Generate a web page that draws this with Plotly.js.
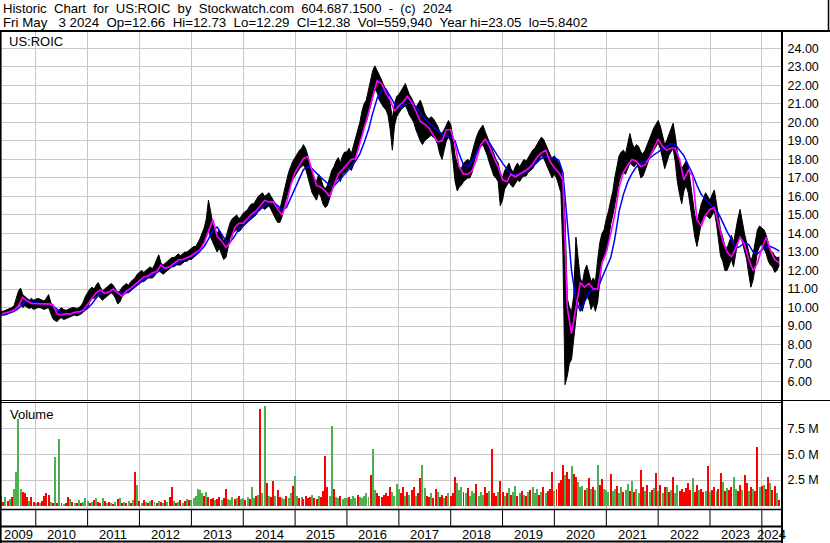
<!DOCTYPE html>
<html>
<head>
<meta charset="utf-8">
<script src="https://cdn.plot.ly/plotly-3.0.1.min.js"></script>
<style>html,body{margin:0;padding:0;background:#fff;}#chart{width:830px;height:543px;}</style>
</head>
<body>
<div id="chart"></div>
<script>
// ---- Data ----
// semi-monthly price range (1st and 16th of each month), May 2009 .. May 3 2024
const hi = [
 9.8,9.8,9.85,9.9,9.95,10.0,10.1,10.5,10.9,11.05,10.7,10.6,10.5,10.4,10.5,10.4,
 10.45,10.5,10.45,10.4,10.35,10.5,10.7,10.3,10.0,9.9,9.8,9.9,10.0,9.9,9.85,9.9,9.95,10.0,10.0,9.95,10.0,10.1,10.3,10.6,
 10.8,11.0,11.1,11.0,11.2,11.35,11.1,10.9,11.0,11.1,11.2,11.3,11.2,11.0,10.8,10.9,11.1,11.2,11.3,11.2,11.4,11.5,11.6,11.8,
 11.9,12.0,11.9,12.0,12.1,12.2,12.1,12.3,12.6,12.85,12.4,12.3,12.4,12.5,12.6,12.7,12.7,12.8,12.9,12.8,12.9,13.0,13.0,13.1,
 13.2,13.3,13.3,13.5,13.7,14.0,14.3,14.8,15.8,15.2,14.5,14.2,14.0,14.2,13.9,13.6,13.8,14.2,14.6,14.8,14.9,15.0,14.8,14.9,
 15.1,15.2,15.3,15.5,15.6,15.6,15.8,16.0,16.1,16.2,16.0,16.1,16.2,16.0,15.8,15.6,15.4,15.3,15.8,16.3,16.8,17.3,17.6,17.9,
 18.1,18.3,18.5,18.6,18.8,18.6,18.2,17.6,17.3,17.0,16.8,17.2,17.0,16.6,16.4,16.6,17.0,17.4,17.6,17.9,18.1,17.8,18.2,18.4,
 18.4,18.6,18.3,18.7,19.2,19.6,20.0,20.6,21.0,21.2,21.8,22.4,22.8,23.05,22.8,22.6,22.3,22.0,21.8,21.6,21.0,20.2,21.0,21.4,
 21.5,21.7,21.9,22.1,21.8,21.5,21.3,21.0,20.8,21.0,21.2,20.9,20.5,20.3,20.2,20.3,20.2,20.0,19.8,19.5,19.4,19.6,19.9,20.1,
 19.9,19.2,18.2,17.8,17.6,17.5,17.8,17.9,18.0,17.9,18.3,18.8,19.2,19.5,19.7,19.85,19.5,19.2,18.9,18.6,18.3,18.0,17.8,17.3,
 17.0,17.4,17.6,17.8,17.5,17.3,17.6,17.8,17.6,17.8,18.0,17.9,18.1,18.3,18.5,18.6,18.8,19.0,19.2,19.1,18.8,18.5,18.2,18.0,
 18.2,18.0,17.8,17.6,16.8,14.9,10.5,10.0,9.8,10.6,13.8,12.6,11.6,11.3,12.0,12.3,11.9,11.4,11.6,11.4,12.6,13.5,14.0,14.2,
 14.8,15.2,15.8,16.3,17.0,17.6,18.2,18.4,18.5,18.3,18.8,19.4,18.9,18.6,18.8,18.7,18.4,18.3,18.5,18.8,19.2,19.5,19.7,19.9,
 20.1,19.8,19.2,18.8,19.0,19.3,19.6,19.95,19.3,18.4,17.8,17.5,17.7,17.9,17.6,16.8,16.0,15.0,14.6,15.1,15.6,15.9,16.2,16.0,
 15.8,16.1,16.35,15.6,14.8,14.2,13.8,13.3,13.2,13.6,13.9,13.5,14.2,14.8,15.3,14.6,14.0,13.5,13.0,12.5,12.9,13.6,14.2,14.4,
 14.3,14.2,13.9,13.4,13.1,13.0,12.8,12.7,12.73
];
const lo = [
 9.55,9.6,9.6,9.65,9.7,9.75,9.8,9.9,10.1,10.2,10.0,10.1,10.0,9.95,10.0,9.9,
 9.95,10.0,10.0,9.95,9.9,9.95,10.0,9.7,9.4,9.3,9.25,9.4,9.45,9.35,9.4,9.45,9.5,9.55,9.6,9.55,9.6,9.65,9.75,9.9,
 10.0,10.3,10.5,10.5,10.6,10.7,10.5,10.4,10.5,10.6,10.7,10.8,10.7,10.5,10.2,10.3,10.6,10.7,10.8,10.8,10.9,11.0,11.1,11.2,
 11.3,11.4,11.4,11.5,11.6,11.6,11.6,11.7,11.9,12.0,11.9,11.8,11.9,12.0,12.1,12.2,12.2,12.3,12.3,12.3,12.4,12.5,12.5,12.6,
 12.6,12.7,12.8,12.9,13.0,13.3,13.6,13.9,14.2,13.8,13.5,13.2,13.0,13.2,12.9,12.6,12.7,13.3,13.8,14.0,14.1,14.2,14.1,14.2,
 14.4,14.5,14.6,14.7,14.8,14.9,15.0,15.2,15.3,15.4,15.3,15.4,15.5,15.3,15.0,14.8,14.6,14.6,14.9,15.5,15.9,16.3,16.7,16.9,
 17.1,17.3,17.5,17.6,17.7,17.5,17.0,16.5,16.2,16.0,15.8,16.2,16.0,15.6,15.4,15.5,15.9,16.3,16.6,16.8,17.0,16.8,17.2,17.3,
 17.4,17.6,17.4,17.7,18.1,18.5,18.9,19.4,19.8,20.0,20.5,21.0,21.5,21.8,21.6,21.2,21.0,20.8,20.7,20.4,19.6,18.5,19.8,20.3,
 20.5,20.7,20.8,20.9,20.7,20.4,20.2,20.0,19.6,19.3,19.0,18.8,19.0,19.1,19.2,19.3,19.2,19.1,18.8,18.3,18.0,18.6,19.0,19.2,
 19.0,18.0,16.8,16.3,16.5,16.6,16.8,16.9,17.0,17.0,17.3,17.9,18.3,18.5,18.7,18.8,18.5,18.2,17.8,17.4,17.1,17.0,16.8,15.5,
 15.8,16.4,16.6,16.8,16.6,16.5,16.7,16.9,16.8,17.0,17.1,17.1,17.3,17.4,17.5,17.7,17.8,18.0,18.2,18.1,17.8,17.6,17.3,17.0,
 17.2,17.0,16.6,16.2,13.0,5.84,6.3,7.0,7.2,8.2,9.5,10.5,10.0,9.8,10.3,10.6,10.4,9.9,10.2,9.8,10.3,11.6,12.5,12.8,
 13.0,13.6,14.5,15.0,15.6,16.2,16.8,17.2,17.3,17.2,17.5,17.8,17.7,17.6,17.8,17.5,17.0,17.1,17.4,17.8,18.1,18.3,18.5,18.7,
 18.9,18.6,18.0,17.5,17.8,18.2,18.4,18.6,17.9,16.8,16.1,15.6,16.3,16.6,16.2,15.3,14.6,13.8,13.3,13.9,14.6,14.9,15.0,14.9,
 14.8,15.0,15.2,14.5,13.6,12.8,12.5,12.0,12.0,12.3,12.6,12.2,13.0,13.6,14.0,13.5,13.0,12.6,11.8,11.1,11.5,12.4,13.0,13.3,
 13.4,13.2,12.9,12.5,12.3,12.2,11.9,12.0,12.29
];
// semi-monthly volume, millions of shares
const vol = [
 1.0,0.4,0.9,0.5,0.7,0.9,1.6,3.3,8.4,1.6,1.3,1.2,0.9,0.5,0.9,0.4,
 0.3,0.4,0.3,0.5,1.0,1.2,1.1,0.4,0.3,4.7,0.3,6.5,0.3,0.2,0.3,0.9,0.7,0.4,0.3,0.3,0.6,0.3,0.4,0.8,
 0.5,0.3,0.4,0.6,0.8,0.4,0.3,0.8,0.5,0.3,0.4,0.3,0.2,0.4,0.7,0.8,0.3,0.4,0.3,0.5,0.3,0.6,3.3,2.0,
 0.5,0.3,0.6,0.4,0.3,0.5,0.6,0.4,0.3,0.5,0.4,0.3,0.6,0.4,0.9,1.8,0.5,0.3,0.4,0.6,0.3,0.5,0.7,0.6,
 0.6,0.8,1.0,1.6,1.5,1.2,1.0,1.3,0.9,0.7,0.8,0.6,0.7,0.9,0.6,0.8,1.6,0.7,0.6,0.9,0.7,0.8,1.0,0.7,
 0.8,0.6,0.9,0.7,1.8,0.8,1.0,1.1,9.4,1.2,9.7,2.2,1.0,0.9,2.4,1.0,1.5,0.9,0.8,0.7,1.0,0.8,1.2,1.9,
 2.9,1.0,0.8,0.9,0.7,1.0,0.8,0.9,1.1,0.8,0.7,1.0,0.9,1.4,4.8,1.8,1.0,7.7,1.6,0.9,0.8,1.0,0.7,0.8,
 0.8,0.9,0.7,1.0,0.8,1.1,0.9,0.8,1.0,1.2,0.9,3.0,5.5,1.5,1.2,1.0,0.9,1.1,1.2,1.0,1.8,1.3,1.0,2.1,
 1.6,1.2,1.8,1.0,1.3,1.1,1.5,1.8,1.0,1.2,2.7,4.0,1.7,1.0,0.9,1.2,0.8,1.6,1.3,0.9,1.1,0.8,1.0,1.2,
 1.0,1.2,2.8,2.2,1.5,1.8,1.3,1.2,1.7,1.0,1.4,1.2,2.1,1.0,1.3,1.1,1.8,1.2,1.4,5.5,1.2,1.0,1.3,2.4,
 1.3,1.0,1.2,1.7,1.1,1.3,1.9,1.0,1.2,1.4,1.1,1.0,1.3,1.5,1.8,1.2,1.6,1.1,1.3,1.8,1.2,1.4,1.6,3.3,
 1.4,1.6,2.2,2.5,4.0,3.0,3.3,2.6,3.9,3.1,2.8,2.3,1.8,1.9,1.5,1.7,2.7,1.6,1.8,1.5,4.0,2.0,2.6,1.6,
 1.5,1.3,3.1,1.4,1.6,1.9,1.2,1.8,1.3,1.5,2.1,1.4,2.4,1.3,1.6,1.2,3.5,1.8,1.4,2.0,1.3,1.5,1.7,3.2,
 1.4,2.0,1.2,1.8,1.8,1.3,1.5,2.8,1.2,2.0,1.4,1.6,1.3,1.7,2.2,1.5,2.7,1.3,2.0,1.5,1.6,1.3,1.4,3.9,
 1.3,1.5,1.8,1.4,1.6,3.2,2.3,1.4,1.7,1.5,1.8,2.8,1.6,1.4,2.0,1.5,3.0,2.2,1.4,1.8,1.6,1.4,5.7,1.8,
 1.9,2.0,1.6,2.8,2.2,1.5,1.9,1.2,0.6
];
// up (g) / down (r) colouring for each volume bar
const volDir =
 "grgrgrggggrrrgrr" +
 "grgrrrrgrgrgrgrrgrgrgrgg" +
 "grgrgrrgrgrgrgrgrgrgrgrg" +
 "rgrgrgrgrgrgrgrrgrgrgrgr" +
 "ggggggrgrrrgrrgrrgggrgrg" +
 "grgrggrgrggrgrrgrrggrggr" +
 "ggrgrrrrgrrgrrrrggrggrgg" +
 "grgggrgggggrggrrrrrrrggg" +
 "grrgrgrrgrrggrrgrrgrrgrg" +
 "rrrgggrgrgggrgggrrgrrrgr" +
 "rgrgrggrgrgrgrgggrgrgrrr" +
 "grrrrgrrgrrgggrgrgrggrrg" +
 "ggrggrggrggrgrggrrgrgrgr" +
 "grgrgrgrggrrrrrrgrrgrrgr" +
 "grrgrrgrgrrggrrgrrgrgrrg" +
 "rgrrgrrgr";
// monthly moving averages (1st of month), May 2009 .. May 2024
const maShort = [
 9.65,9.7,9.78,9.87,10.1,10.55,10.35,10.22,
 10.2,10.22,10.2,10.2,10.15,9.65,9.6,9.68,9.65,9.75,9.78,9.85,
 10.2,10.55,10.8,10.95,10.75,10.85,11.0,10.8,10.6,10.9,11.05,11.25,
 11.45,11.65,11.7,11.88,11.95,12.3,12.12,12.2,12.4,12.57,12.6,12.7,
 12.8,12.98,13.12,13.5,14.15,14.75,13.85,13.6,13.25,13.5,14.3,14.55,
 14.55,14.8,15.05,15.22,15.5,15.78,15.7,15.72,15.3,15.0,15.6,16.6,
 17.3,17.7,18.05,18.15,17.35,16.6,16.5,16.3,16.0,16.6,17.2,17.45,
 17.75,18.0,18.05,18.85,19.75,20.5,21.4,22.25,22.1,21.6,21.2,20.6,
 20.9,21.1,21.4,21.1,20.6,20.05,19.9,19.7,19.3,18.95,19.0,19.6,
 19.6,18.8,17.6,17.2,17.2,17.4,18.0,18.8,19.1,18.7,18.1,17.6,
 16.9,16.8,17.2,17.05,17.2,17.35,17.5,17.75,18.1,18.35,18.5,17.9,
 17.55,17.3,16.9,10.0,8.6,10.0,11.35,11.1,11.3,11.0,11.0,12.4,
 13.0,14.0,15.0,16.5,17.3,17.7,18.0,17.9,17.6,17.7,18.1,18.6,
 19.1,18.7,18.5,18.6,18.6,18.0,16.9,17.4,17.1,14.75,14.4,15.0,
 15.3,15.4,14.5,13.6,13.0,12.75,13.2,13.8,13.4,12.6,12.0,12.4,
 13.2,13.8,13.1,12.6,12.4
];
const maLong = [
 9.6,9.65,9.72,9.8,9.95,10.2,10.35,10.3,
 10.25,10.22,10.2,10.18,10.1,9.9,9.7,9.65,9.66,9.7,9.75,9.8,
 9.95,10.2,10.5,10.75,10.85,10.85,10.9,10.85,10.75,10.8,10.95,11.1,
 11.3,11.5,11.65,11.78,11.88,12.05,12.15,12.18,12.3,12.45,12.55,12.65,
 12.75,12.88,13.05,13.3,13.7,14.2,14.35,14.0,13.6,13.55,13.85,14.25,
 14.4,14.65,14.9,15.1,15.3,15.55,15.7,15.7,15.5,15.3,15.4,15.9,
 16.4,17.0,17.45,17.6,17.5,17.25,17.05,16.8,16.6,16.55,16.8,17.1,
 17.35,17.6,17.9,18.3,18.9,19.6,20.5,21.3,21.7,21.8,21.4,21.0,
 20.8,20.9,21.0,21.05,20.85,20.5,20.2,19.95,19.75,19.55,19.35,19.25,
 19.2,19.0,18.3,17.7,17.6,17.9,18.3,18.8,19.05,18.9,18.5,18.15,
 17.8,17.45,17.2,17.15,17.2,17.3,17.45,17.65,17.85,18.05,18.15,18.1,
 18.1,17.95,17.3,14.4,12.0,10.4,9.8,10.3,10.8,11.0,11.0,11.6,
 12.2,12.7,13.7,15.2,16.1,16.8,17.25,17.6,17.8,17.9,18.05,18.25,
 18.4,18.6,18.7,18.85,18.8,18.5,18.2,17.7,17.2,16.6,16.1,15.85,
 15.6,15.3,15.1,14.6,14.1,13.7,13.2,13.3,13.5,13.4,13.0,12.9,
 13.1,13.3,13.3,13.2,13.05
];
const priceTicks = [6,7,8,9,10,11,12,13,14,15,16,17,18,19,20,21,22,23,24];
const volTicks = [2.5,5,7.5];
const volTickText = ["2.5 M","5.0 M","7.5 M"];
const yearLabels = [2009,2010,2011,2012,2013,2014,2015,2016,2017,2018,2019,2020,2021,2022,2023,2024];
const S2 = "\u00a0\u00a0";
const headerLine1 = ["Historic","Chart","for","US:ROIC","by","Stockwatch.com","604.687.1500","-","(c)","2024"].join(" \u00a0");
const headerLine2 = "Fri May" + S2 + "\u00a03 2024" + S2 + "Op=12.66" + S2 + "Hi=12.73" + S2 + "Lo=12.29" + S2 +
                    "Cl=12.38" + S2 + "Vol=559,940" + S2 + "Year hi=23.05" + S2 + "lo=5.8402";
const symbol = "US:ROIC";

// ---- Dates ----
const pad = n => (n < 10 ? "0" : "") + n;
const semiDates = [];
for (let i = 0; i < 361; i++) {
  const m = 4 + Math.floor(i / 2);
  semiDates.push((2009 + Math.floor(m / 12)) + "-" + pad(m % 12 + 1) + "-" + (i % 2 ? "16" : "01"));
}
semiDates[360] = "2024-05-03";
const monthDates = [];
for (let i = 0; i < 181; i++) {
  const m = 4 + i;
  monthDates.push((2009 + Math.floor(m / 12)) + "-" + pad(m % 12 + 1) + "-01");
}
monthDates[180] = "2024-05-03";
if (hi.length !== 361 || lo.length !== 361 || vol.length !== 361 || volDir.length !== 361 ||
    maShort.length !== 181 || maLong.length !== 181) {
  throw new Error("len hi " + hi.length + " lo " + lo.length + " vol " + vol.length + " dir " + volDir.length +
    " ma1 " + maShort.length + " ma2 " + maLong.length);
}

const xRange = ["2009-05-01", "2024-05-15"];
const FONT = "Liberation Sans, Arial, sans-serif";
const GRID = "#c8c8c8";
const GREEN = "#4cb050", RED = "#ff0000";

// pixel helpers -> paper coords (plot area: x 1..781, y 32..509)
const PL = 1, PR = 781, PT = 32, PB = 509;
const px = x => (x - PL) / (PR - PL);
const py = y => (PB - y) / (PB - PT);

const traces = [
  {x: semiDates, y: lo, type: "scatter", mode: "lines", line: {color: "#000", width: 1}, xaxis: "x", yaxis: "y", hoverinfo: "skip"},
  {x: semiDates, y: hi, type: "scatter", mode: "lines", fill: "tonexty", fillcolor: "#000", line: {color: "#000", width: 1}, xaxis: "x", yaxis: "y", hoverinfo: "skip"},
  {x: monthDates, y: maLong, type: "scatter", mode: "lines", line: {color: "#0000ff", width: 1.5}, xaxis: "x", yaxis: "y"},
  {x: monthDates, y: maShort, type: "scatter", mode: "lines", line: {color: "#ff00ff", width: 1.6}, xaxis: "x", yaxis: "y"},
  {x: semiDates, y: vol, type: "bar", marker: {color: volDir.split("").map(c => c === "r" ? RED : GREEN), line: {width: 0}},
   width: 14 * 86400000, xaxis: "x", yaxis: "y2"}
];

// year label positions: centred in the visible part of each year
const r0 = Date.parse(xRange[0]), r1 = Date.parse(xRange[1]);
const annotations = yearLabels.map(yr => {
  const a = Math.max(Date.UTC(yr, 0, 1), r0), b = Math.min(Date.UTC(yr + 1, 0, 1), r1);
  return {x: new Date((a + b) / 2).toISOString().slice(0, 10), xref: "x", y: py(534.5), yref: "paper",
    text: String(yr), showarrow: false, xanchor: "center", yanchor: "middle", font: {family: FONT, size: 13, color: "#000"}};
});
annotations.push(
  {x: px(1), y: py(9), xref: "paper", yref: "paper", text: headerLine1, showarrow: false, xanchor: "left", yanchor: "middle", font: {family: FONT, size: 13.1, color: "#000"}},
  {x: px(1), y: py(22.5), xref: "paper", yref: "paper", text: headerLine2, showarrow: false, xanchor: "left", yanchor: "middle", font: {family: FONT, size: 13.3, color: "#000"}},
  {x: px(7), y: py(41.5), xref: "paper", yref: "paper", text: symbol, showarrow: false, xanchor: "left", yanchor: "middle", font: {family: FONT, size: 13, color: "#000"}},
  {x: px(8), y: py(414), xref: "paper", yref: "paper", text: "Volume", showarrow: false, xanchor: "left", yanchor: "middle", font: {family: FONT, size: 13, color: "#000"}}
);

const ln = (x0, y0, x1, y1, w) => ({type: "line", xref: "paper", yref: "paper", x0: px(x0), y0: py(y0), x1: px(x1), y1: py(y1), line: {color: "#000", width: w}});
const shapes = [
  ln(0, 31, 830, 31, 2),        // header bottom
  ln(828.5, 0, 828.5, 31, 1.5), // header right
  ln(0.8, 31, 0.8, 543, 1.6),   // left border
  ln(782, 31, 782, 543, 2),     // right axis line
  ln(0, 400.5, 830, 400.5, 1),  // price / volume separator
  ln(0, 402.5, 782, 402.5, 1),
  ln(0, 509.5, 782, 509.5, 1.5),
  ln(0, 526.5, 782, 526.5, 2),
  ln(0, 541.5, 782, 541.5, 2)
];
yearLabels.slice(1).forEach(yr => {
  shapes.push({type: "line", xref: "x", yref: "paper", x0: yr + "-01-01", x1: yr + "-01-01",
    y0: py(510), y1: py(yr === 2024 ? 541 : 526), line: {color: "#000", width: 1}});
});

const layout = {
  width: 830, height: 543, autosize: false,
  margin: {l: PL, r: 830 - PR, t: PT, b: 543 - PB, pad: 0},
  paper_bgcolor: "#fff", plot_bgcolor: "#fff",
  showlegend: false, bargap: 0,
  font: {family: FONT, size: 13, color: "#000"},
  xaxis: {type: "date", range: xRange, anchor: "y2", showgrid: true, gridcolor: GRID, gridwidth: 1,
    tick0: "2009-01-01", dtick: "M12", showticklabels: false, ticks: "", zeroline: false, showline: false, fixedrange: true},
  yaxis: {domain: [py(400), 1], range: [5.01, 24.88], side: "right", anchor: "x", tickvals: priceTicks, tickformat: ".2f",
    showgrid: true, gridcolor: GRID, gridwidth: 1, zeroline: false, showline: false,
    ticks: "outside", ticklen: 3, tickcolor: "rgba(0,0,0,0)", tickfont: {family: FONT, size: 12.5, color: "#000"}},
  yaxis2: {domain: [0, py(402)], range: [-0.3, 10.04], side: "right", anchor: "x", tickvals: volTicks, ticktext: volTickText,
    showgrid: true, gridcolor: GRID, gridwidth: 1, zeroline: false, showline: false,
    ticks: "outside", ticklen: 3, tickcolor: "rgba(0,0,0,0)", tickfont: {family: FONT, size: 12.5, color: "#000"}},
  annotations: annotations,
  shapes: shapes
};

Plotly.newPlot("chart", traces, layout, {displayModeBar: false, staticPlot: true});
</script>
</body>
</html>
